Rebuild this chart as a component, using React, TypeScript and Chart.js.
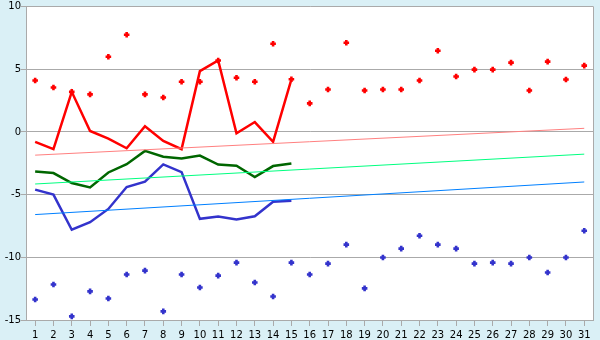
import React, { useEffect, useRef } from "react";
import { Chart, registerables } from "chart.js";

Chart.register(...registerables);

const days = ["1","2","3","4","5","6","7","8","9","10","11","12","13","14","15","16","17","18","19","20","21","22","23","24","25","26","27","28","29","30","31"];

const yTicks = [10, 5, 0, -5, -10, -15];

const redLine = [-0.79, -1.37, 3.2, 0.08, -0.53, -1.3, 0.45, -0.71, -1.37, 4.85, 5.7, -0.1, 0.79, -0.79, 4.2];
const greenLine = [-3.15, -3.28, -4.07, -4.42, -3.23, -2.57, -1.51, -1.98, -2.12, -1.88, -2.6, -2.7, -3.6, -2.72, -2.51];
const blueLine = [-4.6, -5.0, -7.8, -7.2, -6.14, -4.39, -3.97, -2.59, -3.2, -6.93, -6.75, -6.98, -6.72, -5.56, -5.48];

const redMarks = [4.1, 3.55, 3.2, 3.0, 6.0, 7.75, 3.0, 2.75, 4.0, 4.0, 5.7, 4.33, 4.0, 7.04, 4.2, 2.28, 3.39, 7.12, 3.31, 3.39, 3.39, 4.1, 6.48, 4.42, 4.97, 4.97, 5.53, 3.31, 5.61, 4.18, 5.29];
const blueMarks = [-13.36, -12.17, -14.71, -12.72, -13.28, -11.37, -11.06, -14.31, -11.37, -12.41, -11.46, -10.42, -12.01, -13.12, -10.42, -11.37, -10.5, -8.99, -12.48, -10.02, -9.31, -8.28, -8.99, -9.31, -10.5, -10.42, -10.5, -10.02, -11.21, -10.02, -7.88];

const redTrend = [-1.85, 0.29];
const greenTrend = [-4.15, -1.77];
const blueTrend = [-6.59, -3.99];

const trendPoints = (vals: number[]) => [
  { x: days[0], y: vals[0] },
  { x: days[days.length - 1], y: vals[1] },
];

const BG = "#daf0f6";
const GRID = "#aaaaaa";

const plotBg = {
  id: "plotBg",
  beforeDraw(chart: any) {
    const { ctx, chartArea } = chart;
    ctx.save();
    ctx.fillStyle = "#ffffff";
    ctx.fillRect(chartArea.left, chartArea.top, chartArea.right - chartArea.left, chartArea.bottom - chartArea.top);
    ctx.restore();
  },
  afterDraw(chart: any) {
    const { ctx, chartArea } = chart;
    ctx.save();
    ctx.strokeStyle = GRID;
    ctx.lineWidth = 1;
    ctx.beginPath();
    const x = Math.round(chartArea.right) + 0.5;
    ctx.moveTo(x, chartArea.top);
    ctx.lineTo(x, chartArea.bottom);
    ctx.stroke();
    ctx.restore();
  },
};

export default function App() {
  const ref = useRef<HTMLCanvasElement | null>(null);

  useEffect(() => {
    document.body.style.margin = "0";
    const canvas = ref.current;
    if (!canvas) return;
    const font = { family: "DejaVu Sans", size: 10 };
    const chart = new Chart(canvas, {
      type: "line",
      data: {
        labels: days,
        datasets: [
          { data: trendPoints(redTrend) as any, borderColor: "#ff8080", borderWidth: 1, pointRadius: 0, fill: false },
          { data: trendPoints(greenTrend) as any, borderColor: "#00ff80", borderWidth: 1, pointRadius: 0, fill: false },
          { data: trendPoints(blueTrend) as any, borderColor: "#0080ff", borderWidth: 1, pointRadius: 0, fill: false },
          { data: redMarks, showLine: false, borderColor: "#ff0000", backgroundColor: "#ff0000", pointStyle: "cross", pointRadius: 2.8, pointBorderWidth: 2.6 },
          { data: blueMarks, showLine: false, borderColor: "#3333cc", backgroundColor: "#3333cc", pointStyle: "cross", pointRadius: 2.8, pointBorderWidth: 2.6 },
          { data: redLine, borderColor: "#ff0000", borderWidth: 2.5, pointRadius: 0, fill: false },
          { data: greenLine, borderColor: "#006600", borderWidth: 2.5, pointRadius: 0, fill: false },
          { data: blueLine, borderColor: "#3333cc", borderWidth: 2.5, pointRadius: 0, fill: false },
        ],
      },
      options: {
        responsive: false,
        animation: false,
        layout: { padding: { top: 5, right: 5, left: 0, bottom: 0 } },
        plugins: { legend: { display: false }, tooltip: { enabled: false } },
        scales: {
          x: {
            type: "category",
            offset: true,
            grid: { display: true, drawOnChartArea: false, drawTicks: true, tickLength: 6, offset: false, color: GRID },
            border: { color: GRID },
            ticks: { color: "#000", font, padding: 3, maxRotation: 0, autoSkip: false },
            afterFit(scale: any) { scale.height = 20; },
          },
          y: {
            min: -15,
            max: 10,
            afterBuildTicks(scale: any) { scale.ticks = yTicks.map((v) => ({ value: v })); },
            grid: { color: GRID, tickLength: 5 },
            border: { color: GRID },
            ticks: { color: "#000", font, padding: 0, stepSize: 5 },
            afterFit(scale: any) { scale.width = 26; },
          },
        },
      },
      plugins: [plotBg],
    });
    return () => chart.destroy();
  }, []);

  return (
    <div style={{ position: "fixed", left: 0, top: 0, width: 600, height: 340, background: BG }}>
      <canvas ref={ref} width={600} height={340} style={{ display: "block", width: 600, height: 340 }} />
    </div>
  );
}
